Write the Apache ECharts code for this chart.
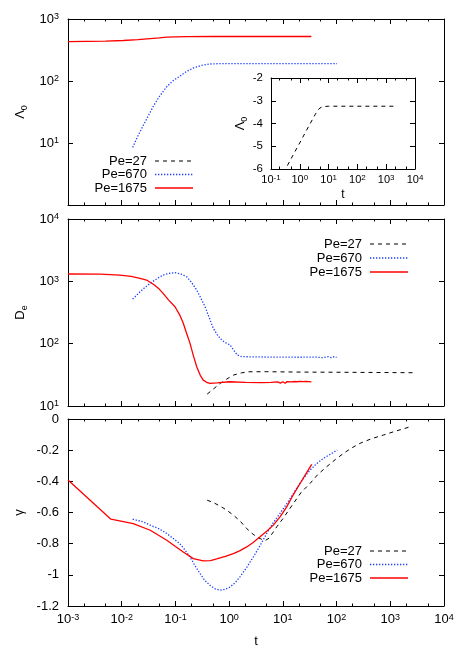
<!DOCTYPE html>
<html><head><meta charset="utf-8">
<script src="https://cdn.jsdelivr.net/npm/echarts@6/dist/echarts.min.js"></script>
<style>html,body{margin:0;padding:0;background:#fff}#c{width:458px;height:654px}</style>
</head><body><div id="c"></div>
<script>
// ---------- DATA ----------
const seriesNames = ['Pe=27', 'Pe=670', 'Pe=1675'];

// Panel 1: Lambda_0 (log y)
const lamT_1675 = [0.001, 0.005, 0.0107, 0.02, 0.034, 0.05, 0.069, 0.1, 0.162, 0.5, 34];
const lamV_1675 = [433, 440, 450, 466, 484, 497, 509, 516, 521, 522, 522];
const lamT_670 = [0.016, 0.02, 0.025, 0.031, 0.039, 0.05, 0.069, 0.09, 0.12, 0.16, 0.215, 0.3, 0.44, 0.7, 1, 10, 102];
const lamV_670 = [8.5, 13, 19, 27, 39.5, 56, 81, 101, 119, 142, 162, 178, 188, 191, 191, 190, 190];
// Inset: Lambda_0 for Pe=27 (linear y)
const insetT_27 = [0.37, 0.6, 1.08, 2.1, 3.4, 4.2, 5, 6.3, 10, 2400];
const insetV_27 = [-5.85, -5.36, -4.77, -4.09, -3.61, -3.42, -3.32, -3.26, -3.24, -3.24];

// Panel 2: D_e (log y)
const deT_1675 = [0.001, 0.004, 0.0093, 0.015, 0.022, 0.029, 0.04, 0.05, 0.059, 0.075, 0.098, 0.12, 0.14, 0.16, 0.187, 0.215, 0.249, 0.29, 0.33, 0.38, 0.44, 0.6, 1, 2, 4, 6,
  8, 9, 10, 11, 12, 13, 14, 15, 16, 17, 18, 19.5, 21, 22.5, 24, 25.5, 27, 28.5, 30, 32, 34];
const deV_1675 = [1310, 1305, 1260, 1200, 1120, 1050, 880, 750, 641, 500, 391, 290, 212, 150, 101, 65, 42.6, 31, 26, 24, 23, 23.5, 24.5, 24, 23.8, 24,
  24.4, 23.3, 24.5, 23.2, 24.6, 23.1, 24.4, 23.3, 24.7, 23, 24.5, 23.2, 24.8, 23.1, 24.6, 23.3, 24.7, 23, 24.6, 23.4, 24.3];
const deT_670 = [0.016, 0.022, 0.028, 0.034, 0.045, 0.059, 0.075, 0.098, 0.125, 0.162, 0.2, 0.249, 0.3, 0.356, 0.42, 0.507, 0.6, 0.727, 0.85, 1.04, 1.2, 1.42, 1.7, 2.1, 5, 10, 20, 40, 55, 70, 80, 90, 100];
const deV_670 = [520, 680, 820, 929, 1100, 1262, 1340, 1374, 1320, 1186, 960, 724, 530, 391, 270, 176, 140, 114, 104, 95, 80, 65.6, 62, 61.7, 61, 61, 60.5, 61, 59.5, 62, 59.5, 62, 60];
const deT_27 = [0.39, 0.5, 0.68, 0.9, 1.2, 1.7, 2.3, 5, 20, 100, 500, 2600];
const deV_27 = [15.5, 18.5, 23, 27, 31.3, 34, 35.4, 35.5, 35, 34.8, 34.5, 34.2];

// Panel 3: gamma (linear y)
const gT_1675 = [0.001, 0.0063, 0.0164, 0.034, 0.069, 0.1, 0.14, 0.215, 0.33, 0.45, 0.586, 0.85, 1.2, 1.6, 2.12, 2.8, 3.76, 5, 6.66, 9, 11.8, 15, 20.9, 27, 34.5];
const gV_1675 = [-0.392, -0.643, -0.671, -0.714, -0.778, -0.818, -0.853, -0.896, -0.911, -0.909, -0.898, -0.882, -0.864, -0.845, -0.821, -0.792, -0.756, -0.72, -0.681, -0.625, -0.564, -0.497, -0.414, -0.35, -0.291];
const gT_670 = [0.016, 0.025, 0.034, 0.05, 0.069, 0.09, 0.12, 0.15, 0.187, 0.23, 0.287, 0.35, 0.44, 0.55, 0.68, 0.85, 1.04, 1.3, 1.59, 2.1, 2.82, 3.8, 5, 6.5, 8.85, 12, 15.7, 22, 32, 43, 56.8, 80, 103];
const gV_670 = [-0.643, -0.66, -0.681, -0.705, -0.735, -0.765, -0.799, -0.84, -0.885, -0.94, -0.992, -1.035, -1.067, -1.09, -1.099, -1.093, -1.078, -1.05, -1.013, -0.955, -0.885, -0.81, -0.735, -0.67, -0.606, -0.54, -0.478, -0.4, -0.328, -0.285, -0.253, -0.222, -0.199];
const gT_27 = [0.39, 0.5, 0.68, 0.9, 1.2, 1.6, 2.12, 2.8, 3.5, 4.2, 4.8, 5.5, 6.5, 7.7, 10, 15.7, 22, 32, 45, 65.6, 95, 134, 190, 274, 450, 743, 1200, 2400];
const gV_27 = [-0.521, -0.535, -0.559, -0.585, -0.617, -0.655, -0.703, -0.74, -0.762, -0.775, -0.778, -0.765, -0.73, -0.692, -0.64, -0.542, -0.47, -0.414, -0.355, -0.306, -0.26, -0.221, -0.186, -0.156, -0.126, -0.103, -0.08, -0.049];

// ---------- STYLE ----------
const FONT = '"Liberation Sans", Arial, sans-serif';
const styles = {
  'Pe=27':   {color: '#000000', width: 1,   dash: [4, 4]},
  'Pe=670':  {color: '#1a3cff', width: 1.3, dash: [1.3, 1.7]},
  'Pe=1675': {color: '#ff0000', width: 1.3, dash: null}
};

function zip(t, v) { return t.map((x, i) => [x, v[i]]); }

const supRich = (fs, sfs) => ({
  b: {fontSize: fs, fontFamily: FONT, color: '#000', lineHeight: fs, verticalAlign: 'bottom'},
  s: {fontSize: sfs, fontFamily: FONT, color: '#000', lineHeight: sfs, verticalAlign: 'top', padding: [0, 0, Math.round(fs * 0.55), 0]}
});
function powLabel(v) { const e = Math.round(Math.log10(v)); return '{b|10}{s|' + e + '}'; }
const subRich = {
  b: {fontSize: 13, fontFamily: FONT, color: '#000', lineHeight: 13, verticalAlign: 'top'},
  u: {fontSize: 9, fontFamily: FONT, color: '#000', lineHeight: 9, padding: [7, 0, 0, 0]}
};

const grids = [
  {left: 68, top: 19, width: 376, height: 186},
  {left: 68, top: 219, width: 376, height: 187},
  {left: 68, top: 419, width: 376, height: 187},
  {left: 271, top: 78, width: 144, height: 91}
];

const xAxis = [], yAxis = [];
const lineBase = {show: true, onZero: false, lineStyle: {color: '#000', width: 1}};

function addXAxes(g, min, max, labelOpt, name, nameGap, nameFs) {
  const dec = Math.round(Math.log10(max / min));
  const base = {gridIndex: g, type: 'log', logBase: 10, min, max, splitNumber: dec,
    splitLine: {show: false}, axisLine: lineBase,
    axisTick: {show: true, inside: true, length: 5, lineStyle: {color: '#000'}}};
  xAxis.push(Object.assign({}, base, {position: 'bottom',
    axisLabel: labelOpt || {show: false},
    name: name || '', nameLocation: 'middle', nameGap: nameGap || 0,
    nameTextStyle: {fontSize: nameFs || 13, fontFamily: FONT, color: '#000'}}));
  const idx = xAxis.length - 1;
  xAxis.push(Object.assign({}, base, {position: 'top', axisLabel: {show: false}}));
  const lo = Math.log10(min), hi = Math.log10(max), mv = [];
  for (let e = lo; e < hi; e++) { mv.push(e + Math.log10(2), e + Math.log10(5)); }
  ['bottom', 'top'].forEach(p => xAxis.push({gridIndex: g, type: 'value', min: lo, max: hi, position: p,
    axisLine: {show: false, onZero: false}, axisLabel: {show: false}, splitLine: {show: false},
    axisTick: {show: true, inside: true, length: 2.5, customValues: mv, lineStyle: {color: '#000'}}}));
  return idx;
}
function addYAxes(g, opts, labelOpt, name, nameGap, nameFs) {
  const base = Object.assign({gridIndex: g, splitLine: {show: false}, axisLine: lineBase,
    axisTick: {show: true, inside: true, length: 5, lineStyle: {color: '#000'}}}, opts);
  yAxis.push(Object.assign({}, base, {position: 'left', axisLabel: labelOpt,
    name: name, nameLocation: 'middle', nameGap: nameGap, nameRotate: 90,
    nameTextStyle: {fontSize: nameFs || 13, fontFamily: FONT, color: '#000', rich: subRich}}));
  const idx = yAxis.length - 1;
  yAxis.push(Object.assign({}, base, {position: 'right', axisLabel: {show: false}}));
  return idx;
}

const powAxisLabel = (fs, sfs, margin, extra) => Object.assign({show: true, margin: margin, formatter: powLabel, rich: supRich(fs, sfs)}, extra || {});

// grids 0..2 share t-range
const x0 = addXAxes(0, 1e-3, 1e4, null);
const x1 = addXAxes(1, 1e-3, 1e4, null);
const x2 = addXAxes(2, 1e-3, 1e4, powAxisLabel(13, 9, 7), 't', 29);
const x3 = addXAxes(3, 1e-1, 1e4, powAxisLabel(11, 8, 5), 't', 17, 12);

const y0 = addYAxes(0, {type: 'log', logBase: 10, min: 1, max: 1000, splitNumber: 3},
  powAxisLabel(13, 9, 9, {showMinLabel: false}), '{b|Λ}{u|0}', 32);
const y1 = addYAxes(1, {type: 'log', logBase: 10, min: 10, max: 10000, splitNumber: 3},
  powAxisLabel(13, 9, 9), '{b|D}{u|e}', 35);
const y2 = addYAxes(2, {type: 'value', min: -1.2, max: 0, interval: 0.2},
  {show: true, margin: 9, fontSize: 13, fontFamily: FONT, color: '#000',
   formatter: v => String(Math.round(v * 10) / 10)}, '{b|γ}', 36);
const y3 = addYAxes(3, {type: 'value', min: -6, max: -2, interval: 1},
  {show: true, margin: 8, fontSize: 11.5, fontFamily: FONT, color: '#000'}, '{b|Λ}{u|0}', 20);

function mkSeries(name, t, v, xi, yi) {
  const s = styles[name];
  return {type: 'line', name, data: zip(t, v), xAxisIndex: xi, yAxisIndex: yi,
    showSymbol: false, symbol: 'none', smooth: false, silent: true, animation: false,
    lineStyle: {color: s.color, width: s.width, type: s.dash || 'solid'}};
}

const series = [
  mkSeries('Pe=670', lamT_670, lamV_670, x0, y0),
  mkSeries('Pe=1675', lamT_1675, lamV_1675, x0, y0),
  mkSeries('Pe=27', insetT_27, insetV_27, x3, y3),
  mkSeries('Pe=27', deT_27, deV_27, x1, y1),
  mkSeries('Pe=670', deT_670, deV_670, x1, y1),
  mkSeries('Pe=1675', deT_1675, deV_1675, x1, y1),
  mkSeries('Pe=27', gT_27, gV_27, x2, y2),
  mkSeries('Pe=670', gT_670, gV_670, x2, y2),
  mkSeries('Pe=1675', gT_1675, gV_1675, x2, y2)
];

// legends (text right-aligned, sample line to the right)
function legendGfx(textRight, lx0, lx1, ys) {
  const els = [];
  seriesNames.forEach((n, i) => {
    const s = styles[n];
    els.push({type: 'text', silent: true, style: {text: n, x: textRight, y: ys[i], align: 'right', verticalAlign: 'middle',
      fontSize: 13, fontFamily: FONT, fill: '#000'}});
    els.push({type: 'line', silent: true, shape: {x1: lx0, y1: ys[i], x2: lx1, y2: ys[i]},
      style: {stroke: s.color, lineWidth: s.width, lineDash: s.dash || null}});
  });
  return els;
}
const graphic = [].concat(
  legendGfx(147, 155, 193, [161, 174.5, 188]),
  legendGfx(362, 370, 408, [244, 258, 272]),
  legendGfx(362, 370, 408, [551, 564.5, 578])
);

const chart = echarts.init(document.getElementById('c'), null, {renderer: 'canvas'});
chart.setOption({
  animation: false,
  backgroundColor: '#fff',
  textStyle: {fontFamily: FONT},
  grid: grids,
  xAxis, yAxis, series, graphic
});
</script></body></html>
